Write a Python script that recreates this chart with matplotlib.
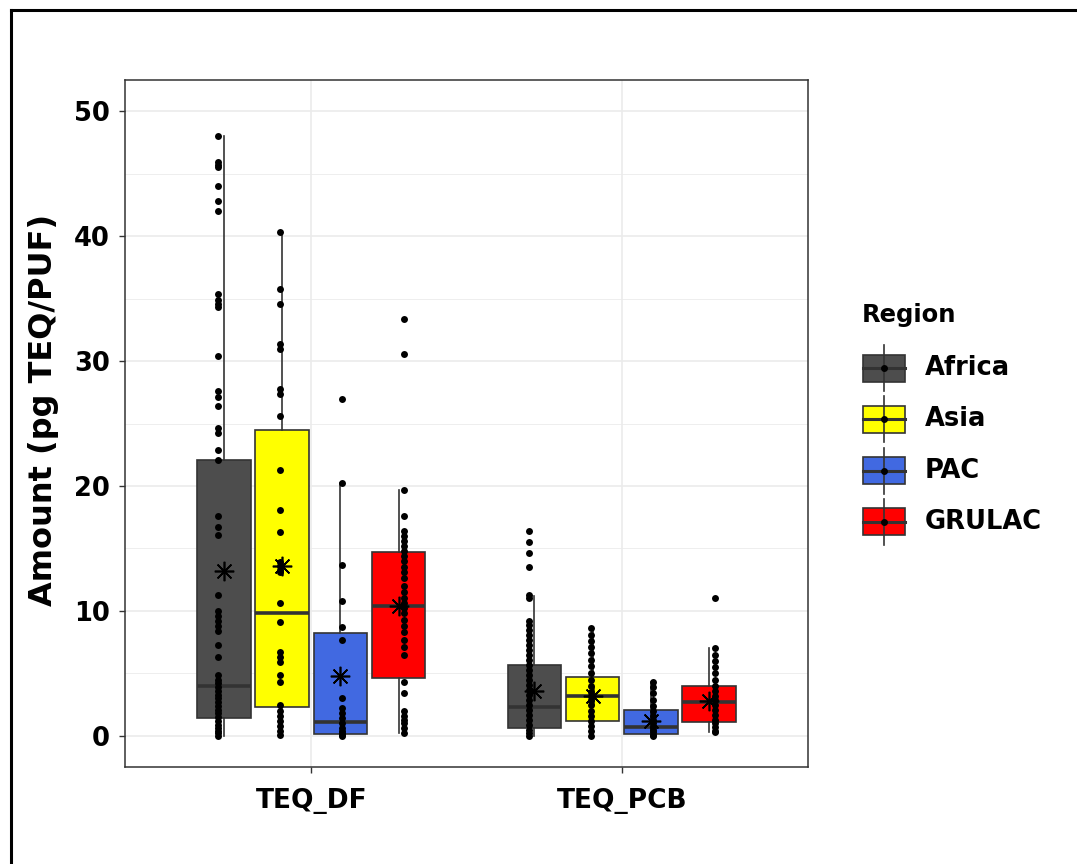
import matplotlib
matplotlib.use("Agg")
import matplotlib.pyplot as plt
from matplotlib.patches import Rectangle
from matplotlib.lines import Line2D

plt.rcParams['font.family'] = ['DejaVu Sans']
plt.rcParams['font.weight'] = 'bold'

# data
regions = ['Africa', 'Asia', 'PAC', 'GRULAC']
variables = ['TEQ_DF', 'TEQ_PCB']
region_colors = ['#4D4D4D', '#FFFF00', '#4169E1', '#FF0000']

# box summaries (q1, median, q3, whisker low, whisker high, mean) per region
q1_df = [1.4, 2.3, 0.15, 4.6]
med_df = [4.0, 9.8, 1.1, 10.4]
q3_df = [22.1, 24.5, 8.2, 14.7]
wlo_df = [0.0, 0.0, 0.0, 0.2]
whi_df = [48.0, 40.3, 20.2, 19.7]
mean_df = [13.2, 13.6, 4.8, 10.4]

q1_pcb = [0.6, 1.2, 0.15, 1.1]
med_pcb = [2.3, 3.2, 0.7, 2.7]
q3_pcb = [5.7, 4.7, 2.1, 4.0]
wlo_pcb = [0.0, 0.0, 0.0, 0.3]
whi_pcb = [11.2, 8.6, 4.3, 7.0]
mean_pcb = [3.6, 3.2, 1.2, 2.8]

# individual samples
africa_df = [48.0, 45.9, 45.7, 45.5, 44.0, 42.8, 42.0, 35.4, 34.9, 34.6, 34.3,
             30.4, 27.6, 27.1, 26.4, 24.6, 24.2, 22.9, 22.1, 17.6, 16.7, 16.1,
             11.3, 10.0, 9.6, 9.2, 8.8, 8.4, 7.3, 6.3, 4.9, 4.5, 4.2, 3.9, 3.6,
             3.3, 3.0, 2.7, 2.4, 2.1, 1.8, 1.5, 1.2, 0.9, 0.6, 0.4, 0.2, 0.0]
asia_df = [40.3, 35.8, 34.6, 31.4, 31.0, 27.8, 27.4, 25.6, 21.3, 18.1, 16.3,
           13.9, 13.6, 13.3, 13.1, 10.6, 9.1, 6.7, 6.3, 5.9, 4.9, 4.3, 2.5,
           2.0, 1.6, 1.2, 0.8, 0.4, 0.1]
pac_df = [27.0, 20.2, 13.7, 10.8, 8.7, 7.7, 3.0, 2.2, 1.8, 1.4, 1.0, 0.6,
          0.4, 0.2, 0.1, 0.0]
grulac_df = [33.4, 30.6, 19.7, 17.6, 16.4, 16.0, 15.6, 15.2, 14.8, 14.4, 14.0,
             13.5, 13.1, 12.6, 12.0, 11.5, 11.0, 10.6, 10.2, 9.8, 9.3, 8.8,
             8.3, 7.7, 7.1, 6.5, 4.3, 3.4, 2.0, 1.6, 1.3, 1.0, 0.6, 0.2]

africa_pcb = [16.4, 15.5, 14.6, 13.5, 11.3, 11.0, 9.2, 8.9, 8.5, 8.1, 7.7, 7.3,
              6.9, 6.5, 6.1, 5.7, 5.3, 4.9, 4.5, 4.1, 3.7, 3.3, 2.9, 2.5, 2.1,
              1.7, 1.3, 0.9, 0.5, 0.2, 0.0]
asia_pcb = [8.6, 8.1, 7.6, 7.1, 6.6, 6.1, 5.6, 5.0, 4.5, 4.0, 3.5, 3.2, 2.9,
            2.5, 2.0, 1.6, 1.2, 0.8, 0.4, 0.0]
pac_pcb = [4.3, 3.9, 3.4, 2.9, 2.4, 2.0, 1.6, 1.3, 1.0, 0.7, 0.5, 0.3, 0.1, 0.0]
grulac_pcb = [11.0, 7.0, 6.5, 6.0, 5.5, 5.0, 4.5, 4.0, 3.6, 3.2, 2.9, 2.5, 2.1,
              1.7, 1.3, 1.0, 0.7, 0.4, 0.3]

summaries = [
    (q1_df, med_df, q3_df, wlo_df, whi_df, mean_df),
    (q1_pcb, med_pcb, q3_pcb, wlo_pcb, whi_pcb, mean_pcb),
]
samples = [
    [africa_df, asia_df, pac_df, grulac_df],
    [africa_pcb, asia_pcb, pac_pcb, grulac_pcb],
]

EDGE = '#333333'
fig = plt.figure(figsize=(10.77, 8.64), dpi=100)
ax = fig.add_axes([125 / 1077, 1 - 767 / 864, 683 / 1077, 687 / 864])

box_dodge = 0.75 / 4
pt_dodge = 0.8 / 4
for vi, var in enumerate(variables):
    q1, med, q3, wlo, whi, mean = summaries[vi]
    for ri, reg in enumerate(regions):
        xb = vi + 1 + (ri - 1.5) * box_dodge
        xp = vi + 1 + (ri - 1.5) * pt_dodge
        stats = [dict(q1=q1[ri], med=med[ri], q3=q3[ri],
                      whislo=wlo[ri], whishi=whi[ri], fliers=[])]
        ax.bxp(stats, positions=[xb], widths=0.172, patch_artist=True,
               showfliers=False, showcaps=False,
               boxprops=dict(facecolor=region_colors[ri], edgecolor=EDGE, linewidth=1.2),
               medianprops=dict(color=EDGE, linewidth=2.6, solid_capstyle='butt'),
               whiskerprops=dict(color=EDGE, linewidth=1.2), zorder=2)
        vals = samples[vi][ri]
        ax.plot([xp] * len(vals), vals, 'o', color='black', ms=5, mew=0, zorder=3)
        ax.plot([xb], [mean[ri]], marker=(8, 2, 0), color='black', ms=14,
                mew=1.2, zorder=4)

ax.set_xlim(0.4, 2.6)
ax.set_ylim(-2.5, 52.5)
ax.set_xticks([1, 2])
ax.set_xticklabels(variables)
ax.set_yticks(range(0, 51, 10))
ax.set_yticks(range(5, 50, 10), minor=True)
ax.tick_params(axis='both', which='major', length=4, width=1.0, color=EDGE,
               labelcolor='black')
ax.tick_params(axis='y', labelsize=18.5, pad=7)
ax.tick_params(axis='x', labelsize=19, pad=11)
ax.tick_params(axis='y', which='minor', length=0)
ax.grid(which='major', color='#EBEBEB', linewidth=1.2, zorder=0)
ax.grid(which='minor', axis='y', color='#EBEBEB', linewidth=0.6, zorder=0)
ax.set_axisbelow(True)
for s in ax.spines.values():
    s.set_color('#333333')
    s.set_linewidth(1.1)
ax.set_ylabel('Amount (pg TEQ/PUF)', fontsize=23, fontweight='bold')
ax.yaxis.set_label_coords(-0.097, 0.52)

# legend drawn on an overlay in pixel units
lax = fig.add_axes([0, 0, 1, 1], facecolor='none')
lax.set_xlim(0, 1077)
lax.set_ylim(864, 0)
lax.axis('off')
lax.text(862, 315, 'Region', fontsize=17.5, fontweight='bold', va='center', ha='left')
for ri, reg in enumerate(regions):
    cy = 368 + ri * 51.3
    lax.plot([884, 884], [cy - 23, cy + 23], color=EDGE, lw=1.2)
    lax.add_patch(Rectangle((863, cy - 13.5), 42, 27, facecolor=region_colors[ri],
                            edgecolor=EDGE, lw=1.2))
    lax.plot([863, 905], [cy, cy], color=EDGE, lw=2.2)
    lax.plot([884], [cy], 'o', color='black', ms=5, mew=0)
    lax.text(925, cy, reg, fontsize=18.5, fontweight='bold', va='center', ha='left')

# outer frame along the top and left edges
fig.add_artist(Line2D([11 / 1077, 1.0], [1 - 10 / 864, 1 - 10 / 864],
                      transform=fig.transFigure, color='black', lw=2.2))
fig.add_artist(Line2D([11 / 1077, 11 / 1077], [0.0, 1 - 10 / 864],
                      transform=fig.transFigure, color='black', lw=2.2))

fig.savefig('out.png', dpi=100)
